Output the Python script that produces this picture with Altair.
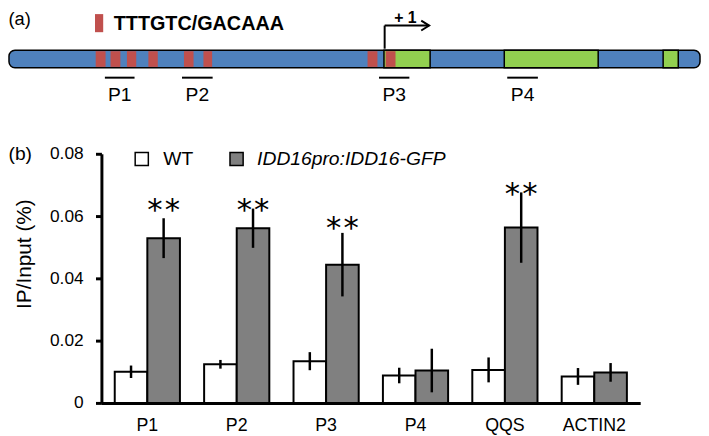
import altair as alt
import pandas as pd

FONT = "Liberation Sans"
BLUE = "#4f81bd"
RED = "#c0504d"
GREEN = "#92d050"
GRAY = "#808080"

# ---------------- panel (b): ChIP-qPCR ----------------
targets = ["P1", "P2", "P3", "P4", "QQS", "ACTIN2"]
genotypes = ["WT", "IDD16pro:IDD16-GFP"]
wt_mean = [0.0100, 0.0124, 0.0134, 0.0088, 0.0106, 0.0085]
wt_err = [0.0020, 0.0014, 0.0029, 0.0025, 0.0040, 0.0027]
gfp_mean = [0.0529, 0.0561, 0.0444, 0.0104, 0.0563, 0.0098]
gfp_err = [0.0064, 0.0063, 0.0102, 0.0070, 0.0113, 0.0030]
sig_marks = ["**", "**", "**", "", "**", ""]
sig_y = [0.0645, 0.0645, 0.0586, None, 0.0695, None]
y_ticks = [0, 0.02, 0.04, 0.06, 0.08]
y_title = "IP/Input (%)"

# ---------------- panel (a): IDD16 target locus ----------------
# positions along the schematic, relative to the transcription start site (+1 = 0)
gene_start, gene_end = -380, 319
exon_start = [-0.7, 121.0, 281.7]
exon_end = [46.0, 216.0, 297.0]
motif_start = [-292.3, -277.3, -260.7, -239.0, -203.0, -183.3, -17.3, 1.0]
motif_end = [-282.3, -267.3, -251.3, -229.5, -193.3, -174.5, -7.3, 11.0]
primer_names = ["P1", "P2", "P3", "P4"]
primer_start = [-283.0, -205.0, -5.7, 124.0]
primer_end = [-253.0, -174.0, 25.0, 155.0]
tss_pos = 0
arrow_end = 45
motif_label = "TTTGTC/GACAAA"
tss_label = "+ 1"
panel_labels = ["(a)", "(b)"]

# ---------------- tables ----------------
rows = []
for i, t in enumerate(targets):
    rows.append(dict(target=t, genotype=genotypes[0], mean=wt_mean[i], err=wt_err[i]))
    rows.append(dict(target=t, genotype=genotypes[1], mean=gfp_mean[i], err=gfp_err[i]))
bar_df = pd.DataFrame(rows)
bar_df["lo"] = bar_df["mean"] - bar_df["err"]
bar_df["hi"] = bar_df["mean"] + bar_df["err"]

star_df = pd.DataFrame({"target": targets, "genotype": genotypes[1],
                        "mark": sig_marks, "ypos": sig_y})
star_df = star_df[star_df["mark"] == "**"]

gene_df = pd.DataFrame({"start": [gene_start], "end": [gene_end]})
exon_df = pd.DataFrame({"start": exon_start, "end": exon_end})
motif_df = pd.DataFrame({"start": motif_start, "end": motif_end})
primer_df = pd.DataFrame({"name": primer_names, "start": primer_start, "end": primer_end})
primer_df["mid"] = (primer_df["start"] + primer_df["end"]) / 2
tss_df = pd.DataFrame({"tss": [tss_pos], "end": [arrow_end], "label": [tss_label]})

W, H = 545, 252

# ---------------- panel (b) layers ----------------
x_axis = alt.Axis(title=None, labelAngle=0, ticks=False, tickSize=0, domainWidth=3,
                  domainColor="black", labelFont=FONT, labelFontSize=18,
                  labelColor="black", labelPadding=14, labelBaseline="top")
x_enc = alt.X("target:N", sort=targets,
              scale=alt.Scale(domain=targets, paddingInner=0.2707, paddingOuter=0.149),
              axis=x_axis)
xo_enc = alt.XOffset("genotype:N", sort=genotypes,
                     scale=alt.Scale(domain=genotypes, paddingInner=0, paddingOuter=0))
y_axis = alt.Axis(values=y_ticks,
                  labelExpr="datum.value == 0 ? '0' : format(datum.value, '.2f')",
                  grid=False, domainWidth=3, domainColor="black", tickColor="black",
                  tickWidth=3, tickSize=6, labelFont=FONT, labelFontSize=17.5,
                  labelColor="black", labelPadding=12.5, title=y_title, titleFont=FONT,
                  titleFontSize=21, titleFontWeight="normal", titleColor="black",
                  titleAngle=270, titleX=-77.5, titleY=101, titleAlign="center",
                  titleBaseline="middle")
y_scale = alt.Scale(domain=[0, 0.08], nice=False, zero=True)

bars = alt.Chart(bar_df).mark_bar(stroke="black", strokeWidth=2).encode(
    x=x_enc, xOffset=xo_enc,
    y=alt.Y("mean:Q", scale=y_scale, axis=y_axis),
    fill=alt.Fill("genotype:N", scale=alt.Scale(domain=genotypes, range=["white", GRAY]),
                  legend=None),
)
errs = alt.Chart(bar_df).mark_rule(color="black", strokeWidth=2.5).encode(
    x=x_enc, xOffset=xo_enc,
    y=alt.Y("lo:Q", scale=y_scale, axis=y_axis), y2="hi:Q",
)
STAR_FONT = "DejaVu Sans"
STAR_SIZE = 31
stars_l = alt.Chart(star_df).mark_text(font=STAR_FONT, fontSize=STAR_SIZE,
                                       baseline="alphabetic", dx=-8.8, dy=18,
                                       color="black").encode(
    x=x_enc, xOffset=xo_enc, y=alt.Y("ypos:Q", scale=y_scale, axis=y_axis),
    text=alt.value("*"))
stars_r = alt.Chart(star_df).mark_text(font=STAR_FONT, fontSize=STAR_SIZE,
                                       baseline="alphabetic", dx=8.8, dy=18,
                                       color="black").encode(
    x=x_enc, xOffset=xo_enc, y=alt.Y("ypos:Q", scale=y_scale, axis=y_axis),
    text=alt.value("*"))

leg_df_wt = pd.DataFrame({"g": [genotypes[0]]})
leg_df_gfp = pd.DataFrame({"g": [genotypes[1]]})
leg_sq_wt = alt.Chart(leg_df_wt).mark_square(size=177, fill="white", stroke="black",
                                             strokeWidth=1.5, opacity=1).encode(
    x=alt.value(40.8), y=alt.value(5.3))
leg_sq_gfp = alt.Chart(leg_df_gfp).mark_square(size=177, fill=GRAY, stroke="black",
                                               strokeWidth=1.5, opacity=1).encode(
    x=alt.value(136.7), y=alt.value(5.3))
leg_tx_wt = alt.Chart(leg_df_wt).mark_text(font=FONT, fontSize=19.5, align="left",
                                           baseline="middle", color="black").encode(
    x=alt.value(62.5), y=alt.value(5.8), text="g:N")
leg_tx_gfp = alt.Chart(leg_df_gfp).mark_text(font=FONT, fontSize=19.5, align="left",
                                             baseline="middle", fontStyle="italic",
                                             color="black").encode(
    x=alt.value(157.5), y=alt.value(5.8), text="g:N")
lab_b = alt.Chart(pd.DataFrame({"t": [panel_labels[1]]})).mark_text(
    font=FONT, fontSize=19.5, align="left", baseline="middle", color="black").encode(
    x=alt.value(-94), y=alt.value(0.5), text="t:N")

panel_b = alt.layer(bars, errs, stars_l, stars_r, leg_sq_wt, leg_sq_gfp,
                    leg_tx_wt, leg_tx_gfp, lab_b)

# ---------------- panel (a) layers ----------------
DOM = [-286.5, 258.5]


def gx(field):
    return alt.X(field, type="quantitative",
                 scale=alt.Scale(domain=DOM, nice=False, zero=False), axis=None)


body = alt.Chart(gene_df).mark_rect(fill=BLUE, stroke="black", strokeWidth=1.5,
                                    cornerRadius=6).encode(
    x=gx("start"), x2="end:Q", y=alt.value(-104.7), y2=alt.value(-87))
exons = alt.Chart(exon_df).mark_rect(fill=GREEN, stroke="black", strokeWidth=1.5).encode(
    x=gx("start"), x2="end:Q", y=alt.value(-104.7), y2=alt.value(-87))
motifs = alt.Chart(motif_df).mark_rect(fill=RED).encode(
    x=gx("start"), x2="end:Q", y=alt.value(-103.8), y2=alt.value(-87.9))
primers = alt.Chart(primer_df).mark_rule(color="black", strokeWidth=2).encode(
    x=gx("start"), x2="end:Q", y=alt.value(-77))
primer_txt = alt.Chart(primer_df).mark_text(font=FONT, fontSize=19.5, baseline="middle",
                                            color="black").encode(
    x=gx("mid"), y=alt.value(-59.5), text="name:N")
tss_v = alt.Chart(tss_df).mark_rule(color="black", strokeWidth=2).encode(
    x=gx("tss"), y=alt.value(-106.3), y2=alt.value(-129.7))
tss_h = alt.Chart(tss_df).mark_rule(color="black", strokeWidth=2).encode(
    x=gx("tss"), x2="end:Q", y=alt.value(-129.7))
tss_head = alt.Chart(tss_df).mark_point(shape="M -1.6 -1 L 0 0 L -1.6 1", size=100,
                                        filled=False, stroke="black", strokeWidth=2,
                                        opacity=1).encode(
    x=gx("end"), y=alt.value(-129.7))
tss_txt = alt.Chart(tss_df).mark_text(font=FONT, fontSize=16, fontWeight="bold",
                                      baseline="middle", dx=21, color="black").encode(
    x=gx("tss"), y=alt.value(-137), text="label:N")
leg_motif = alt.Chart(pd.DataFrame({"t": [motif_label]})).mark_rect(fill=RED).encode(
    x=alt.value(-6.5), x2=alt.value(1.8), y=alt.value(-141.3), y2=alt.value(-123))
leg_motif_txt = alt.Chart(pd.DataFrame({"t": [motif_label]})).mark_text(
    font=FONT, fontSize=20, fontWeight="bold", align="left", baseline="middle",
    color="black").encode(x=alt.value(12.5), y=alt.value(-131.5), text="t:N")
lab_a = alt.Chart(pd.DataFrame({"t": [panel_labels[0]]})).mark_text(
    font=FONT, fontSize=18.5, align="left", baseline="middle", color="black").encode(
    x=alt.value(-94), y=alt.value(-136.5), text="t:N")

panel_a = alt.layer(body, exons, motifs, primers, primer_txt, tss_v, tss_h, tss_head,
                    tss_txt, leg_motif, leg_motif_txt, lab_a)

chart = alt.layer(panel_b, panel_a).resolve_scale(
    x="independent", y="independent"
).properties(
    width=W, height=H,
    autosize=alt.AutoSizeParams(type="none"),
    padding={"left": 94.5, "top": 145, "right": 61.5, "bottom": 31},
    background="white",
).configure_view(stroke=None)

chart.save("out.html", embed_options={"renderer": "svg", "actions": False})
